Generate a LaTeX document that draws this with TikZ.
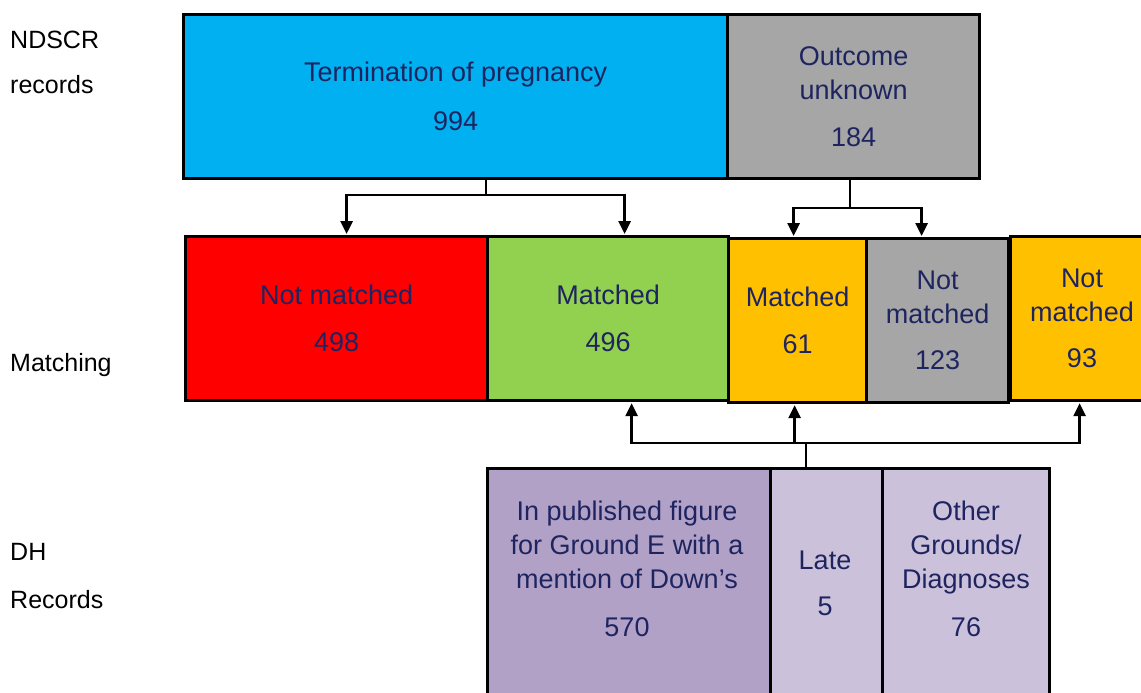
\documentclass[tikz,border=0pt]{standalone}
\usepackage{fontspec}
\setmainfont{Liberation Sans}
\usetikzlibrary{arrows.meta}
\definecolor{cblue}{HTML}{00B0F0}
\definecolor{cgray}{HTML}{A6A6A6}
\definecolor{cred}{HTML}{FF0000}
\definecolor{cgreen}{HTML}{92D050}
\definecolor{corange}{HTML}{FFC000}
\definecolor{cpurple}{HTML}{B2A1C7}
\definecolor{clilac}{HTML}{CCC1DA}
\definecolor{txt}{RGB}{30,36,96}
\begin{document}
\begin{tikzpicture}[x=1pt,y=-1pt,
  box/.style={draw=black,line width=3.2pt,anchor=north west,inner sep=0pt,align=center,text=txt,font=\fontsize{27}{34}\selectfont},
  lbl/.style={align=center,text=txt,font=\fontsize{27}{34}\selectfont},
  conn/.style={line width=2.8pt,-{Triangle[length=13pt,width=12pt]},shorten >=1pt},
  stem/.style={line width=2.8pt},
  side/.style={anchor=west,inner sep=0pt,font=\fontsize{25}{30}\selectfont}]
\useasboundingbox (0,0) rectangle (1141,693);

% side labels
\node[side] (l1) at (10,40) {NDSCR};
\node[side] (l2) at (10,85) {records};
\node[side] (l3) at (10,365) {Matching};
\node[side] (l4) at (10,552) {DH};
\node[side] (l5) at (10,600) {Records};

% top row
\node[box,fill=cblue,minimum width=544pt,minimum height=164pt] (top) at (182,13) {Termination of pregnancy\\[15pt]994};
\node[box,fill=cgray,minimum width=252pt,minimum height=164pt] (unk) at (726,13) {Outcome\\unknown\\[13pt]184};

% middle row
\node[box,fill=cred,minimum width=302pt,minimum height=164pt] (red) at (184,235) {Not matched\\[13pt]498};
\node[box,fill=cgreen,minimum width=241pt,minimum height=164pt] (green) at (486,235) {Matched\\[13pt]496};
\node[box,fill=corange,minimum width=138pt,minimum height=164pt] (or1) at (727,237) {Matched\\[13pt]61};
\node[box,fill=cgray,minimum width=142pt,minimum height=164pt] (gr2) at (865,237) {Not\\matched\\[12pt]123};
\node[box,fill=corange,minimum width=150pt,minimum height=164pt] (or2) at (1009,235) {};
\node[lbl] (or2t) at (1082,318) {Not\\matched\\[12pt]93};

% bottom row
\node[box,fill=cpurple,minimum width=283pt,minimum height=260pt] (pub) at (486,467) {};
\node[box,fill=clilac,minimum width=112pt,minimum height=260pt] (late) at (769,467) {};
\node[box,fill=clilac,minimum width=167pt,minimum height=260pt] (oth) at (881,467) {};
\node[lbl] (pubt) at (627,569) {In published figure\\for Ground E with a\\mention of Down’s\\[14pt]570};
\node[lbl] (latet) at (825,583) {Late\\[12pt]5};
\node[lbl] (otht) at (966,569) {Other\\Grounds/\\Diagnoses\\[14pt]76};

% connectors top
\coordinate (j1) at (486,195);
\draw[stem] (top.south -| j1) -- (j1);
\draw[conn] (j1) -| ([xshift=10pt]red.north);
\draw[conn] (j1) -| ([xshift=16.5pt]green.north);

\coordinate (j2) at (850,208);
\draw[stem] (unk.south -| j2) -- (j2);
\draw[conn] (j2) -| ([xshift=-4pt]or1.north);
\draw[conn] (j2) -| ([xshift=-16pt]gr2.north);

% connectors bottom
\coordinate (j3) at (806,443);
\draw[stem] (late.north -| j3) -- (j3);
\draw[conn] (j3) -| ([xshift=23.5pt]green.south);
\draw[conn] (j3) -| ([xshift=-3pt]or1.south);
\draw[conn] (j3) -| ([xshift=-6pt]or2.south);
\end{tikzpicture}
\end{document}
